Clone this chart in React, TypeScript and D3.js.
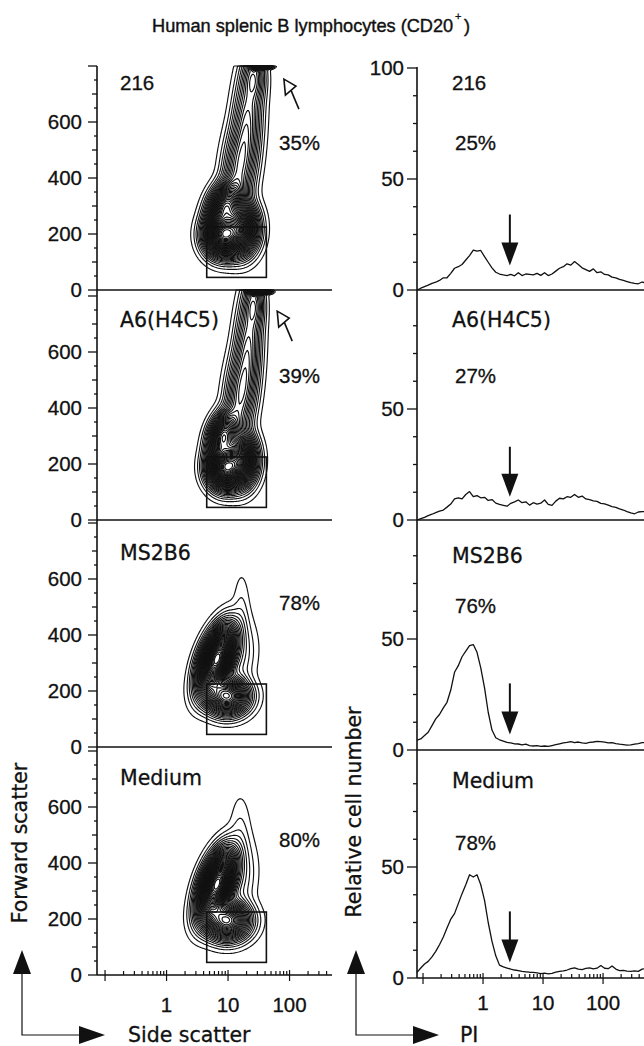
import React, { useRef, useEffect } from 'react';
import * as d3 from 'd3';

const TITLE = 'Human splenic B lymphocytes (CD20';
const SAMPLES = ['216', 'A6(H4C5)', 'MS2B6', 'Medium'];
const SCATTER_PCT = ['35%', '39%', '78%', '80%'];
const PI_PCT = ['25%', '27%', '76%', '78%'];

const FSC_TICKS = [0, 200, 400, 600];
const SSC_TICKS = [1, 10, 100];
const COUNT_TICKS = [0, 50, 100];
const PI_TICKS = [1, 10, 100];

// lymphocyte gate, side scatter x forward scatter
const GATE_SSC = [4.5, 42];
const GATE_FSC = [45, 225];

// density clusters:
// [log10 side scatter, forward scatter, sd log ssc, sd fsc, rho, weight]
const CLUSTERS_216 = [
  [0.92, 195, 0.16, 40, 0, 1],
  [1.2, 220, 0.15, 50, 0, 0.7],
  [0.95, 300, 0.15, 45, 0.3, 0.6],
  [1.18, 430, 0.15, 100, 0.3, 0.2],
  [1.32, 620, 0.13, 110, 0.2, 0.15],
  [1.42, 760, 0.1, 50, 0, 0.12],
  [1.46, 805, 0.06, 10, 0, 0.5],
  [1.62, 798, 0.06, 4, 0, 0.2],
];
const CLUSTERS_A6 = [
  [0.95, 186, 0.15, 40, 0, 1],
  [1.2, 215, 0.14, 50, 0, 0.7],
  [0.92, 300, 0.13, 45, 0.3, 0.6],
  [1.2, 440, 0.14, 100, 0.3, 0.2],
  [1.33, 630, 0.12, 110, 0.2, 0.15],
  [1.42, 770, 0.09, 50, 0, 0.12],
  [1.44, 822, 0.06, 10, 0, 0.5],
  [1.6, 815, 0.06, 4, 0, 0.2],
];
const CLUSTERS_MS2B6 = [
  [0.82, 315, 0.16, 62, 0.5, 1],
  [0.98, 182, 0.19, 36, 0, 0.5],
  [1.2, 320, 0.15, 70, 0.2, 0.03],
  [1.22, 490, 0.08, 80, 0, 0.011],
];
const CLUSTERS_MEDIUM = [
  [0.82, 325, 0.16, 64, 0.5, 1],
  [0.98, 195, 0.2, 38, 0, 0.5],
  [1.2, 340, 0.15, 75, 0.2, 0.03],
  [1.2, 510, 0.1, 80, 0, 0.012],
];
const CLUSTERS = [CLUSTERS_216, CLUSTERS_A6, CLUSTERS_MS2B6, CLUSTERS_MEDIUM];

// PI channel centres of the histograms
const PI_CHANNELS = [
  0.0794, 0.0917, 0.106, 0.122, 0.141, 0.163, 0.188, 0.218, 0.251, 0.29,
  0.335, 0.387, 0.447, 0.516, 0.596, 0.688, 0.794, 0.917, 1.06, 1.22,
  1.41, 1.63, 1.88, 2.18, 2.51, 2.9, 3.35, 3.87, 4.47, 5.16,
  5.96, 6.88, 7.94, 9.17, 10.6, 12.2, 14.1, 16.3, 18.8, 21.8,
  25.1, 29.0, 33.5, 38.7, 44.7, 51.6, 59.6, 68.8, 79.4, 91.7,
  106, 122, 141, 163, 188, 218, 251, 290, 335, 387,
  447, 516,
];
const HIST_216 = [
  0, 0.8, 1.5, 2.2, 3, 3.5, 4.3, 5.5, 5.5, 7.5,
  9.8, 10.5, 11.5, 13.5, 15.5, 18, 17.5, 17.8, 15, 12.5,
  10, 8, 7.2, 6.8, 6.5, 7, 6.4, 7.8, 6.5, 7.2,
  7, 6.8, 7.5, 6.6, 7.8, 6.5, 7.2, 8.5, 9.8, 10.5,
  11.8, 11.2, 12.8, 11.5, 10, 9.2, 8.4, 9.5, 7.8, 8.2,
  7, 6.8, 5.8, 5.5, 4.8, 4.3, 3.8, 3.3, 3, 2.8,
  3.6, 3.2,
];
const HIST_A6 = [
  0, 0.6, 1.2, 2, 2.6, 3.3, 4, 4.5, 5.8, 7.2,
  9.5, 10, 9.5, 11.5, 12.8, 10.5, 11, 10, 10.2, 8.8,
  9.2, 7.6, 7, 6.6, 6.2, 7.5, 8.2, 9, 7.8, 8.2,
  6.7, 7.8, 7.2, 7.6, 9, 7, 6.6, 8.5, 9.8, 9.5,
  10.5, 10.2, 11.5, 10.2, 10.8, 9.5, 9.2, 8.6, 8.4, 7.5,
  7.3, 6.7, 6, 5.7, 5, 4.5, 3.8, 3.2, 2.8, 3.6,
  3.8, 3.8,
];
const HIST_MS2B6 = [
  4.5, 5, 6.5, 8, 11, 14, 16, 19, 21.5, 27,
  35, 38, 42, 44.5, 47, 47.5, 44, 37, 28, 17,
  9, 5.5, 4.6, 4, 3.4, 3.2, 2.8, 2.7, 2.3, 2.6,
  2, 1.8, 2, 1.6, 1.8, 1.6, 2, 2.4, 2.8, 3.2,
  3.4, 3.8, 3.3, 3.6, 3.2, 3, 3.4, 3.6, 3.9, 3.8,
  3.5, 3.2, 3.3, 2.9, 2.6, 2.4, 2.2, 2.3, 2.6, 2.9,
  3.3, 3.4,
];
const HIST_MEDIUM = [
  2.5, 4.5, 6.3, 7.5, 9.5, 12, 15, 18.5, 22.5, 26.5,
  29, 33.5, 38, 42, 46.5, 45.5, 46.5, 42, 35, 25,
  16.5, 10, 5.8, 5, 4.5, 4, 3.6, 3.3, 3, 2.8,
  2.6, 2.5, 2.3, 2, 2.2, 1.9, 2.1, 2.6, 3, 3.2,
  3.6, 4.2, 4.6, 4, 3.8, 4.3, 4.6, 4.1, 4.4, 5.6,
  4.4, 4.2, 5.4, 4, 3.3, 3.4, 3.1, 3, 3.2, 3,
  4, 4.2,
];
const HISTS = [HIST_216, HIST_A6, HIST_MS2B6, HIST_MEDIUM];

// dead-cell marker arrows on the histograms
const MARKER_PI = 2.8;
const MARKER_TOP = [34, 33, 30, 30];
const MARKER_TIP = [11, 10.5, 7, 7];

// open arrows pointing at the debris pile-up (ssc, fsc)
const OPEN_ARROW_SSC = [81, 63];
const OPEN_ARROW_FSC = [753, 746];

const LEFT_ZERO = [290, 520, 747, 975];
const RIGHT_ZERO = [290, 520, 750, 978];
const NAME_DY = [-200, -193, -187, -190];
const PCT_DY = [-140, -137, -137, -128];
const NUM_FONT = '"Liberation Sans", Arial, Helvetica, sans-serif';
const WORD_FONT = '"DejaVu Sans", Verdana, sans-serif';

export default function App() {
  const svgRef = useRef<SVGSVGElement>(null);

  useEffect(() => {
    const svg = d3.select(svgRef.current);
    svg.selectAll('*').remove();
    svg.attr('font-family', NUM_FONT).attr('font-size', 20.5)
      .attr('fill', '#111');

    const sscX = d3.scaleLog().domain([0.074, 490]).range([97, 332]);
    const piX = d3.scaleLog().domain([0.0794, 481]).range([417, 644]);

    const txt = (x: number, y: number, s: string, words = false) =>
      svg.append('text').attr('x', x).attr('y', y)
        .attr('font-family', words ? WORD_FONT : NUM_FONT)
        .attr('font-size', 20.5)
        .attr('stroke', '#111').attr('stroke-width', 0.3)
        .text(s);

    txt(152, 32, TITLE).attr('font-size', 18.2).attr('stroke-width', 0.4);
    txt(455, 20, '+').attr('font-size', 11).attr('stroke-width', 0.3);
    txt(464, 32, ')').attr('font-size', 18.2).attr('stroke-width', 0.4);

    // thresholds for the density contours
    const N = 40;
    const thresholds = d3.range(1, N).map(k => Math.pow(k / N, 1.5));

    SAMPLES.forEach((name, p) => {
      const zero = LEFT_ZERO[p];
      const top = p === 0 ? zero - 224 : LEFT_ZERO[p - 1];
      const fscY = d3.scaleLinear().domain([0, 800]).range([zero, zero - 224]);
      const x0 = 97;
      const w = 235;
      const h = zero - top;
      const values = new Array(w * h).fill(0);
      for (let j = 0; j < h; j++) {
        const v = fscY.invert(top + j + 0.5);
        for (let i = 0; i < w; i++) {
          const u = Math.log10(sscX.invert(x0 + i + 0.5));
          let s = 0;
          for (const [mu, mv, su, sv, rho, wt] of CLUSTERS[p]) {
            const a = (u - mu) / su;
            const b = (v - mv) / sv;
            s += wt * Math.exp(-0.5 * (a * a - 2 * rho * a * b + b * b) / (1 - rho * rho));
          }
          values[j * w + i] = s;
        }
      }
      const mx = d3.max(values) as number;
      const norm = values.map(d => d / mx);
      const contours = d3.contours().size([w, h]).thresholds(thresholds)(norm);
      svg.append('g')
        .attr('transform', `translate(${x0},${top})`)
        .selectAll('path')
        .data(contours)
        .join('path')
        .attr('d', d3.geoPath())
        .attr('fill', 'none')
        .attr('stroke', '#111')
        .attr('stroke-width', 1.15);

      // gate
      svg.append('rect')
        .attr('x', sscX(GATE_SSC[0]))
        .attr('y', fscY(GATE_FSC[1]))
        .attr('width', sscX(GATE_SSC[1]) - sscX(GATE_SSC[0]))
        .attr('height', fscY(GATE_FSC[0]) - fscY(GATE_FSC[1]))
        .attr('fill', 'none')
        .attr('stroke', '#111')
        .attr('stroke-width', 1.6);

      // y axis ticks
      const ticks = d3.range(0, 801, 50).filter(t => fscY(t) >= top - 1);
      svg.append('g').selectAll('line').data(ticks).join('line')
        .attr('x1', t => 97 - (t % 200 === 0 ? 9 : t % 100 === 0 ? 5 : 3))
        .attr('x2', 97)
        .attr('y1', t => fscY(t)).attr('y2', t => fscY(t))
        .attr('stroke', '#111').attr('stroke-width', 1.3);
      FSC_TICKS.forEach(t => txt(82, fscY(t) + 7, String(t)).attr('text-anchor', 'end'));

      svg.append('line')
        .attr('x1', 97).attr('x2', 332).attr('y1', zero).attr('y2', zero)
        .attr('stroke', '#111').attr('stroke-width', 1.5);

      txt(120, zero + NAME_DY[p], name, p > 0);
      txt(279, zero + PCT_DY[p], SCATTER_PCT[p]);

      if (p < 2) {
        const ax = sscX(OPEN_ARROW_SSC[p]);
        const ay = fscY(OPEN_ARROW_FSC[p]);
        const g = svg.append('g').attr('transform', `translate(${ax},${ay})`);
        g.append('line').attr('x1', 7).attr('y1', 11).attr('x2', 15).attr('y2', 30)
          .attr('stroke', '#111').attr('stroke-width', 1.6);
        g.append('path').attr('d', 'M0,0 L1.5,16 L12,7 Z')
          .attr('fill', '#fff').attr('stroke', '#111').attr('stroke-width', 1.6)
          .attr('stroke-linejoin', 'miter');
      }

      // PI histogram
      const rz = RIGHT_ZERO[p];
      const countY = d3.scaleLinear().domain([0, 100]).range([rz, rz - 222]);
      const line = d3.line<number>()
        .x((d, i) => piX(PI_CHANNELS[i]))
        .y(d => countY(d));
      svg.append('path')
        .attr('d', line(HISTS[p]))
        .attr('fill', 'none')
        .attr('stroke', '#111')
        .attr('stroke-width', 1.3)
        .attr('stroke-linejoin', 'round');

      svg.append('line')
        .attr('x1', 417).attr('x2', 644).attr('y1', rz).attr('y2', rz)
        .attr('stroke', '#111').attr('stroke-width', 1.5);
      const cticks = d3.range(0, 100.1, 12.5).filter(t => p === 0 || t < 100);
      svg.append('g').selectAll('line').data(cticks).join('line')
        .attr('x1', t => 417 - (t % 50 === 0 ? 10 : 4))
        .attr('x2', 417)
        .attr('y1', t => countY(t)).attr('y2', t => countY(t))
        .attr('stroke', '#111').attr('stroke-width', 1.3);
      COUNT_TICKS.filter(t => p === 0 || t < 100)
        .forEach(t => txt(404, countY(t) + 7, String(t)).attr('text-anchor', 'end'));

      txt(452, rz + NAME_DY[p], name, p > 0);
      txt(455, rz + PCT_DY[p], PI_PCT[p]);

      // marker arrow
      const mx2 = piX(MARKER_PI);
      const yTop = countY(MARKER_TOP[p]);
      const yTip = countY(MARKER_TIP[p]);
      svg.append('line').attr('x1', mx2).attr('x2', mx2).attr('y1', yTop).attr('y2', yTip - 20)
        .attr('stroke', '#111').attr('stroke-width', 2);
      svg.append('path')
        .attr('d', `M${mx2 - 8.5},${yTip - 23} L${mx2 + 8.5},${yTip - 23} L${mx2},${yTip} Z`)
        .attr('fill', '#111');
    });

    // y axis lines
    svg.append('line').attr('x1', 97).attr('x2', 97).attr('y1', 66).attr('y2', 975)
      .attr('stroke', '#111').attr('stroke-width', 1.6);
    svg.append('line').attr('x1', 417).attr('x2', 417).attr('y1', 67).attr('y2', 978)
      .attr('stroke', '#111').attr('stroke-width', 1.6);

    // log x axes on the bottom row
    const logTicks = (scale: d3.ScaleLogarithmic<number, number>, y: number, labels: number[], ly: number) => {
      const all: number[] = [];
      [0.1, 1, 10, 100, 1000].forEach(d => d3.range(1, 10).forEach(m => all.push(d * m)));
      const [a, b] = scale.range();
      const vis = all.filter(t => scale(t) >= a + 3 && scale(t) <= b);
      const major = (t: number) => Math.abs(Math.log10(t) - Math.round(Math.log10(t))) < 1e-6;
      svg.append('g').selectAll('line').data(vis).join('line')
        .attr('x1', t => scale(t)).attr('x2', t => scale(t))
        .attr('y1', t => (major(t) ? y + 6 : y))
        .attr('y2', t => (major(t) ? y - 5 : y - 4))
        .attr('stroke', '#111').attr('stroke-width', 1.2);
      labels.forEach(t => txt(scale(t), ly, String(t)).attr('text-anchor', 'middle'));
    };
    logTicks(sscX, LEFT_ZERO[3], SSC_TICKS, 1012);
    logTicks(piX, RIGHT_ZERO[3], PI_TICKS, 1010);

    // axis titles
    txt(0, 0, 'Forward scatter', true)
      .attr('transform', 'translate(27,843) rotate(-90)')
      .attr('text-anchor', 'middle');
    txt(0, 0, 'Relative cell number', true)
      .attr('transform', 'translate(361,812) rotate(-90)')
      .attr('text-anchor', 'middle');
    txt(128, 1042, 'Side scatter', true);
    txt(460, 1042, 'PI', true);

    // corner direction arrows
    const corner = (x: number) => {
      const g = svg.append('g');
      g.append('path').attr('d', `M${x},973 L${x},1035 L${x + 58},1035`)
        .attr('fill', 'none').attr('stroke', '#111').attr('stroke-width', 1.2);
      g.append('path').attr('d', `M${x - 9},974 L${x + 9},974 L${x},950 Z`).attr('fill', '#111');
      g.append('path').attr('d', `M${x + 57},1026 L${x + 57},1044 L${x + 83},1035 Z`).attr('fill', '#111');
    };
    corner(22);
    corner(356);
  }, []);

  return (
    <svg ref={svgRef} width={644} height={1046}
      style={{ position: 'absolute', left: 0, top: 0, background: '#fff' }} />
  );
}
